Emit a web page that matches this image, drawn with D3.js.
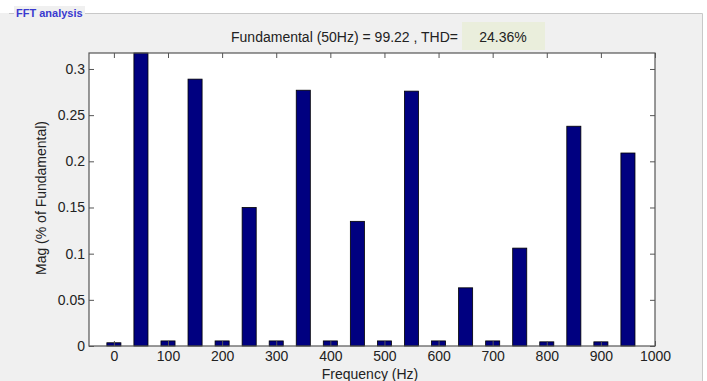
<!DOCTYPE html>
<html>
<head>
<meta charset="utf-8">
<script src="https://cdn.jsdelivr.net/npm/d3@7"></script>
<style>
  body { margin: 0; background: #fff; }
  text { font-family: "Liberation Sans", Arial, sans-serif; }
</style>
</head>
<body>
<script>
'use strict';

// harmonic frequencies (Hz) and magnitudes (% of fundamental)
const freqs = [0, 50, 100, 150, 200, 250, 300, 350, 400, 450, 500,
               550, 600, 650, 700, 750, 800, 850, 900, 950];
const mags = [0.0035, 0.3173, 0.0055, 0.289, 0.0055, 0.150, 0.0055, 0.277, 0.0055, 0.135, 0.0055,
              0.276, 0.0055, 0.063, 0.0055, 0.106, 0.0045, 0.238, 0.0045, 0.209];
const xTicks = [0, 100, 200, 300, 400, 500, 600, 700, 800, 900, 1000];
const yTicks = [0, 0.05, 0.1, 0.15, 0.2, 0.25, 0.3];

const titleText = "Fundamental (50Hz) = 99.22 , THD=";
const thdText = "24.36%";

const W = 707, H = 381;
const svg = d3.select('body').append('svg')
  .attr('width', W).attr('height', H);

// panel background and frame
svg.append('rect').attr('x', 0).attr('y', 13).attr('width', 702).attr('height', H - 13)
  .attr('fill', '#f0f0f0');
svg.append('line').attr('x1', 9).attr('x2', 702.5).attr('y1', 13.5).attr('y2', 13.5)
  .attr('stroke', '#c8c8c8');
svg.append('line').attr('x1', 702.5).attr('x2', 702.5).attr('y1', 13.5).attr('y2', H)
  .attr('stroke', '#c8c8c8');
svg.append('rect').attr('x', 14).attr('y', 6).attr('width', 71).attr('height', 14)
  .attr('fill', '#f0f0f0');
svg.append('text').attr('x', 16).attr('y', 17)
  .style('font-size', '11px').style('font-weight', 'bold').style('fill', '#3a3acf')
  .text('FFT analysis');

const plot = { left: 89, right: 655, top: 53, bottom: 346 };

const xScale = d3.scaleLinear().domain([-46, 1000]).range([plot.left, plot.right]);
const yScale = d3.scaleLinear().domain([0, 0.3173]).range([plot.bottom, plot.top]);

// white plot area
svg.append('rect').attr('x', plot.left).attr('y', plot.top)
  .attr('width', plot.right - plot.left).attr('height', plot.bottom - plot.top)
  .attr('fill', '#fff');

// bars
const barW = xScale(26) - xScale(0);
svg.selectAll('.bar').data(freqs).enter().append('rect')
  .attr('class', 'bar')
  .attr('x', (d) => xScale(d) - barW / 2)
  .attr('y', (d, i) => yScale(mags[i]))
  .attr('width', barW)
  .attr('height', (d, i) => plot.bottom - yScale(mags[i]))
  .attr('fill', '#000080')
  .attr('stroke', '#000')
  .attr('stroke-width', 0.8);

// axes, MATLAB style with ticks pointing inward
function styleAxis(g) {
  g.select('.domain').remove();
  g.selectAll('.tick line').attr('stroke', '#555');
  g.selectAll('.tick text').style('font-size', '14px').style('fill', '#222');
}

svg.append('g').attr('transform', `translate(0,${plot.bottom})`)
  .call(d3.axisBottom(xScale).tickValues(xTicks).tickSizeInner(-5).tickPadding(5)
    .tickFormat(d3.format('d')))
  .call(styleAxis);
svg.append('g').attr('transform', `translate(0,${plot.top})`)
  .call(d3.axisTop(xScale).tickValues(xTicks).tickSizeInner(-5).tickFormat(''))
  .call(styleAxis);
svg.append('g').attr('transform', `translate(${plot.left},0)`)
  .call(d3.axisLeft(yScale).tickValues(yTicks).tickSizeInner(-5).tickPadding(4)
    .tickFormat((d) => d === 0 ? '0' : String(+d.toFixed(2))))
  .call(styleAxis);
svg.append('g').attr('transform', `translate(${plot.right},0)`)
  .call(d3.axisRight(yScale).tickValues(yTicks).tickSizeInner(-5).tickFormat(''))
  .call(styleAxis);

// plot box
svg.append('rect').attr('x', plot.left).attr('y', plot.top)
  .attr('width', plot.right - plot.left).attr('height', plot.bottom - plot.top)
  .attr('fill', 'none').attr('stroke', '#555').attr('stroke-width', 1.2);

// title with THD box
svg.append('rect').attr('x', 462).attr('y', 22).attr('width', 83).attr('height', 28)
  .attr('fill', '#eaeedc');
svg.append('text').attr('x', 458).attr('y', 42).attr('text-anchor', 'end')
  .style('font-size', '14px').style('fill', '#222').text(titleText);
svg.append('text').attr('x', 503).attr('y', 42).attr('text-anchor', 'middle')
  .style('font-size', '14px').style('fill', '#222').text(thdText);

// axis labels
svg.append('text').attr('transform', 'translate(46,198)rotate(-90)')
  .attr('text-anchor', 'middle')
  .style('font-size', '14px').style('fill', '#222')
  .text('Mag (% of Fundamental)');
svg.append('text').attr('x', 370).attr('y', 379).attr('text-anchor', 'middle')
  .style('font-size', '14px').style('fill', '#222')
  .text('Frequency (Hz)');
</script>
</body>
</html>
